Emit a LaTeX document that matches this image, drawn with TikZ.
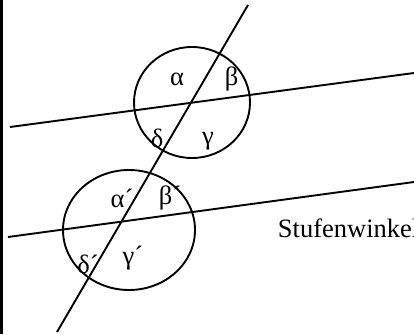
\documentclass[tikz,border=0pt]{standalone}
\usepackage{fontspec}
\setmainfont{Liberation Serif}

\begin{document}
\begin{tikzpicture}[
    x=1pt, y=-1pt,
    line width=1.9pt,
    lbl/.style={font=\fontsize{26.5}{31}\selectfont, inner sep=0pt, anchor=base},
]
\useasboundingbox (0,0) rectangle (414,334);
\clip (0,0) rectangle (414,334);

% left frame edge
\fill (0,0) rectangle (2.5,334);

% ============ Lines ============
\coordinate (trTop) at (248,5);
\coordinate (trBot) at (57,332);
\coordinate (upL) at (10,127);
\coordinate (upR) at (414,73);
\coordinate (loL) at (8,237);
\coordinate (loR) at (414,182);

\draw (trTop) -- (trBot);
\draw (upL) -- (upR);
\draw (loL) -- (loR);

% ============ Circles ============
\coordinate (cUp) at (192,102.5);
\coordinate (cLo) at (129,230);
\draw (cUp) ellipse [x radius=58pt, y radius=55.5pt];
\draw (cLo) ellipse [x radius=66pt, y radius=60pt];

% Angles at upper crossing
\node[lbl] (alpha) at (177,85) {α};
\node[lbl] (beta)  at (231.5,85) {β};
\node[lbl] (delta) at (157,147) {δ};
\node[lbl] (gamma) at (208,144) {γ};

% Angles at lower crossing
\node[lbl] (alphaP) at (122,207) {α´};
\node[lbl] (betaP)  at (170,204) {β´};
\node[lbl] (deltaP) at (88,273) {δ´};
\node[lbl] (gammaP) at (133,264) {γ´};

% caption
\node[lbl, anchor=base west] (cap) at (277,237) {Stufenwinkel};

\end{tikzpicture}
\end{document}
